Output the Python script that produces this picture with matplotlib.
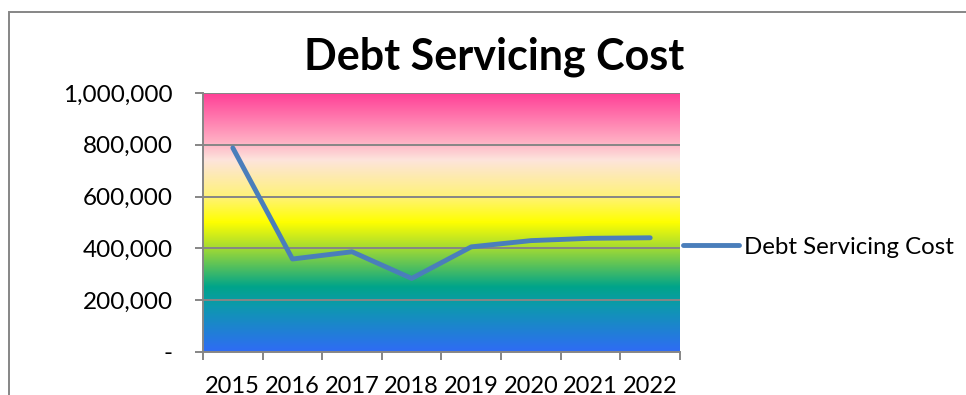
import matplotlib
matplotlib.use("Agg")
import matplotlib.pyplot as plt
import numpy as np
from matplotlib.colors import LinearSegmentedColormap
from matplotlib.patches import Rectangle
from matplotlib.ticker import FuncFormatter, FixedLocator

years = ["2015", "2016", "2017", "2018", "2019", "2020", "2021", "2022"]
cost = [788000, 359000, 387000, 284000, 406000, 430000, 439000, 441000]
series_name = "Debt Servicing Cost"
title = "Debt Servicing Cost"

plt.rcParams['font.family'] = ['Lato', 'DejaVu Sans']

fig = plt.figure(figsize=(9.66, 3.95), dpi=100)
ax = fig.add_axes([203 / 966, 1 - 352 / 395, 477 / 966, 259 / 395])

# outer chart border (cropped on the right and bottom)
fig.patches.append(Rectangle((9 / 966, -0.1), 1.2, 1 - 12 / 395 + 0.1, transform=fig.transFigure,
                             fill=False, edgecolor="#868686", linewidth=1.4))

# rainbow gradient fill of the plot area (bottom -> top)
stops = [(0.0, "#2F6BF5"), (0.17, "#0E98B0"), (0.25, "#00A48A"), (0.405, "#A8DC30"),
         (0.50, "#FFFF00"), (0.60, "#FFF27A"), (0.74, "#FDE4DC"), (0.81, "#FFB0C4"), (1.0, "#FF3E96")]
cmap = LinearSegmentedColormap.from_list("rainbow_fill", stops)
grad = np.linspace(0, 1, 512).reshape(-1, 1)
ax.imshow(grad, cmap=cmap, origin="lower", aspect="auto", extent=[0, 8, 0, 1000000], zorder=0)

x = np.arange(len(years)) + 0.5
ax.plot(x, cost, color="#4A7EBB", linewidth=3.5, solid_capstyle="round",
        solid_joinstyle="round", label=series_name, zorder=3)

ax.set_xlim(0, 8)
ax.set_ylim(0, 1000000)
ax.set_yticks(np.arange(0, 1000001, 200000))
ax.yaxis.set_major_formatter(FuncFormatter(lambda v, p: f"{v:,.0f}" if v else "-"))
ax.grid(axis="y", color="#868686", linewidth=1.4, zorder=1)
ax.set_axisbelow(False)

ax.xaxis.set_major_locator(FixedLocator(np.arange(0, 9)))
ax.xaxis.set_minor_locator(FixedLocator(x))
ax.set_xticklabels([])
ax.set_xticklabels(years, minor=True)
ax.tick_params(axis="x", which="major", length=5.8, width=1.4, color="#868686")
ax.tick_params(axis="x", which="minor", length=0, pad=17, labelsize=17)
ax.tick_params(axis="y", length=5.8, width=1.4, color="#868686", labelsize=17.5, pad=16)

for s in ["top", "right"]:
    ax.spines[s].set_visible(False)
for s in ["left", "bottom"]:
    ax.spines[s].set_color("#868686")
    ax.spines[s].set_linewidth(1.4)
    ax.spines[s].set_zorder(2)

fig.text(494 / 966, 1 - 57 / 395, title, ha="center", va="center", fontsize=31, fontweight="bold")

fig.legend(loc="center left", bbox_to_anchor=(683 / 966, 1 - 247 / 395), frameon=False,
           fontsize=17.3, handlelength=2.35, handletextpad=0.2, borderpad=0, borderaxespad=0)

fig.savefig("out.png", dpi=100)
